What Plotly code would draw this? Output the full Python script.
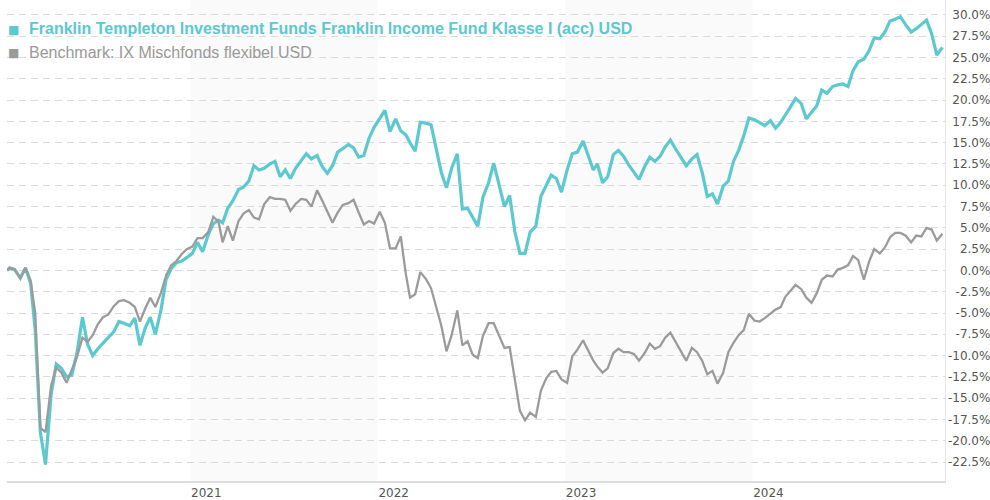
import plotly.graph_objects as go

# ---- data (cumulative performance in %) ----
dates = ["2020-01-10"]
for yy in range(2020, 2025):
    for mm in range(1, 13):
        for dd in (5, 15, 25):
            if yy == 2020 and mm == 1 and dd == 5:
                continue
            dates.append(f"{yy}-{mm:02d}-{dd:02d}")
dates.append("2025-01-05")

fund = [
    0.0,
    0.3, 0.1,
    -0.9, 0.3, -1.5,
    -7.0, -19.0, -22.8,
    -14.5, -11.0, -11.5,
    -12.5, -12.3, -9.8,
    -5.5, -8.7, -10.0,
    -9.2, -8.6, -7.9,
    -7.2, -6.0, -6.2,
    -6.5, -5.6, -8.8,
    -6.8, -5.5, -7.5,
    -4.6, -1.0, 0.2,
    0.9, 1.1, 1.5,
    2.0, 3.3, 2.2,
    4.2, 5.5, 5.9,
    5.6, 7.3, 8.2,
    9.5, 9.8, 10.5,
    12.3, 11.8, 12.0,
    12.5, 12.8, 11.0,
    11.8, 10.8, 12.0,
    12.9, 13.7, 13.1,
    13.5, 12.2, 11.4,
    12.3, 13.9, 14.3,
    14.8, 14.4, 13.3,
    13.5, 15.5, 16.8,
    17.8, 18.8, 16.3,
    17.8, 16.4, 15.9,
    15.0, 14.0, 17.4,
    17.3, 17.1, 14.5,
    11.5, 9.7, 12.0,
    13.7, 7.2, 7.3,
    6.2, 5.2, 8.6,
    10.3, 12.6, 10.2,
    7.5, 8.8, 4.6,
    2.0, 2.0, 4.5,
    5.2, 8.7, 10.0,
    11.2, 10.8, 9.2,
    11.8, 13.7, 13.9,
    15.2, 13.5, 11.8,
    12.5, 10.3, 11.0,
    13.6, 14.1, 13.4,
    12.4, 11.6, 10.7,
    12.2, 13.3, 12.8,
    13.4, 14.5, 15.3,
    14.2, 13.2, 12.3,
    13.1, 13.6, 11.5,
    8.7, 9.0, 7.8,
    9.9, 10.5, 12.8,
    14.1, 15.8, 17.9,
    17.7, 17.4, 17.0,
    17.6, 16.7, 17.4,
    18.2, 19.2, 20.2,
    19.6, 17.8, 18.5,
    19.3, 21.2, 20.8,
    21.6, 21.8, 21.9,
    21.6, 23.5, 24.5,
    24.8, 25.8, 27.3,
    27.2, 28.0, 29.3,
    29.5, 29.8, 28.9,
    28.0, 28.4, 28.9,
    29.4, 27.8, 25.3,
    26.2,
]

bench = [
    0.0,
    0.3, 0.1,
    -0.9, 0.3, -1.2,
    -5.0, -18.5, -19.0,
    -13.5, -11.4, -12.0,
    -13.2, -11.8, -10.2,
    -7.9, -8.4, -7.6,
    -6.3, -5.5, -5.2,
    -4.2, -3.6, -3.5,
    -3.8, -4.3, -6.0,
    -4.5, -3.2, -4.3,
    -2.6, -0.6, 0.6,
    1.1, 1.9, 2.5,
    2.8, 3.8, 3.8,
    4.5, 6.3, 5.7,
    3.3, 5.2, 3.5,
    5.8, 6.7, 7.1,
    6.2, 6.0, 7.8,
    8.6, 8.4, 8.4,
    8.3, 7.0, 7.8,
    8.4, 8.3, 7.5,
    9.4, 8.2, 6.8,
    5.6, 6.8, 7.7,
    7.9, 8.3, 6.8,
    5.4, 5.8, 5.5,
    6.9, 5.6, 2.6,
    2.6, 4.0, -0.5,
    -3.2, -2.8, -0.2,
    -1.0, -2.1, -4.2,
    -6.5, -9.5, -7.6,
    -4.7, -8.8, -8.3,
    -9.9, -10.3, -7.7,
    -6.2, -6.2, -7.6,
    -9.1, -9.0, -13.0,
    -16.5, -17.6, -16.7,
    -17.2, -14.1, -12.7,
    -11.9, -11.8, -12.8,
    -13.2, -10.1, -9.3,
    -8.2, -9.4, -10.6,
    -11.3, -12.0, -11.5,
    -9.7, -9.2, -9.6,
    -9.6, -9.8, -10.6,
    -9.7, -8.6, -9.2,
    -8.9, -7.9, -7.3,
    -8.5, -9.6, -10.6,
    -9.1, -9.6, -10.6,
    -12.2, -11.8, -13.3,
    -12.0, -9.6, -8.5,
    -7.6, -7.0, -5.1,
    -5.9, -6.0, -5.6,
    -5.1, -4.6, -4.3,
    -3.1, -2.4, -1.7,
    -2.2, -3.2, -3.8,
    -2.7, -1.1, -0.6,
    -0.7, 0.1, 0.3,
    0.6, 1.7, 1.2,
    -1.1, 1.0, 2.5,
    2.0, 2.7, 3.9,
    4.4, 4.4, 4.1,
    3.3, 4.1, 4.0,
    5.0, 4.8, 3.5,
    4.3,
]

fund_name = "Franklin Templeton Investment Funds Franklin Income Fund Klasse I (acc) USD"
bench_name = "Benchmark: IX Mischfonds flexibel USD"

y_tickvals = [30.0, 27.5, 25.0, 22.5, 20.0, 17.5, 15.0, 12.5, 10.0, 7.5, 5.0, 2.5, 0.0,
              -2.5, -5.0, -7.5, -10.0, -12.5, -15.0, -17.5, -20.0, -22.5]
y_ticktext = ["30.0%", "27.5%", "25.0%", "22.5%", "20.0%", "17.5%", "15.0%", "12.5%",
              "10.0%", "7.5%", "5.0%", "2.5%", "0.0%", "-2.5%", "-5.0%", "-7.5%",
              "-10.0%", "-12.5%", "-15.0%", "-17.5%", "-20.0%", "-22.5%"]
x_tickvals = ["2021-01-01", "2022-01-01", "2023-01-01", "2024-01-01"]
x_ticktext = ["2021", "2022", "2023", "2024"]
shaded_years = [("2021-01-01", "2022-01-01"), ("2023-01-01", "2024-01-01")]

TEAL = "#5cc8cf"
GREY = "#9b9b9b"

fig = go.Figure()
fig.add_trace(go.Scatter(x=dates, y=fund, mode="lines", name=fund_name,
                         line=dict(color=TEAL, width=3.2), showlegend=False))
fig.add_trace(go.Scatter(x=dates, y=bench, mode="lines", name=bench_name,
                         line=dict(color=GREY, width=2.3), showlegend=False))

for x0, x1 in shaded_years:
    fig.add_shape(type="rect", xref="x", yref="paper", x0=x0, x1=x1, y0=0, y1=1,
                  fillcolor="#fafafa", line=dict(width=0), layer="below")

# legend drawn as text
fig.add_annotation(xref="paper", yref="paper", x=0.0074, y=0.938, xanchor="center", yanchor="middle",
                   text="■", showarrow=False, font=dict(size=12, color=TEAL, family="DejaVu Sans"))
fig.add_annotation(xref="paper", yref="paper", x=0.0213, y=0.940, xanchor="left", yanchor="middle",
                   text="<b>" + fund_name + "</b>", showarrow=False,
                   font=dict(size=16, color=TEAL, family="Liberation Sans, Arial, sans-serif"))
fig.add_annotation(xref="paper", yref="paper", x=0.0074, y=0.889, xanchor="center", yanchor="middle",
                   text="■", showarrow=False, font=dict(size=12, color=GREY, family="DejaVu Sans"))
fig.add_annotation(xref="paper", yref="paper", x=0.0213, y=0.891, xanchor="left", yanchor="middle",
                   text=bench_name, showarrow=False,
                   font=dict(size=16, color="#999999", family="Liberation Sans, Arial, sans-serif"))

fig.update_layout(
    width=990, height=500,
    margin=dict(l=7, r=43, t=0, b=18),
    paper_bgcolor="white", plot_bgcolor="white",
    font=dict(family="DejaVu Sans, Verdana, sans-serif", size=12, color="#555555"),
    hovermode=False,
)
fig.update_xaxes(
    type="date", range=["2020-01-10", "2025-01-10"],
    tickvals=x_tickvals, ticktext=x_ticktext, ticklabelshift=16,
    showgrid=False, zeroline=False, ticks="",
    showline=True, linecolor="#dcdcdc", linewidth=1.5,
    tickfont=dict(size=12, color="#555555"),
)
fig.update_yaxes(
    side="right", range=[-24.73, 31.76],
    tickvals=y_tickvals, ticktext=y_ticktext,
    ticklabelposition="inside", ticklabelstandoff=-46,
    showgrid=True, gridcolor="#dadada", gridwidth=1, griddash="7px,5px",
    zeroline=False, ticks="",
    showline=True, linecolor="#e8e8e8", linewidth=1,
    tickfont=dict(size=12, color="#555555"),
)

fig.write_html("out.html")
